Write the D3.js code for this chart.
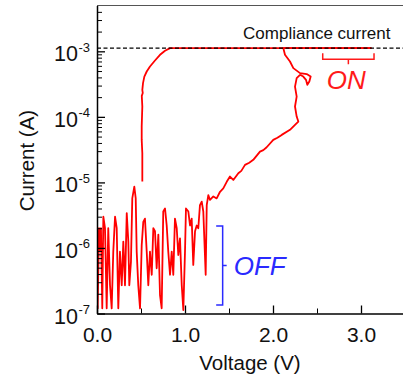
<!DOCTYPE html>
<html>
<head>
<meta charset="utf-8">
<script src="https://cdn.jsdelivr.net/npm/d3@7"></script>
<style>
  html, body { margin: 0; padding: 0; background: #fff; }
  svg { display: block; font-family: "Liberation Sans", Arial, Helvetica, sans-serif; }
</style>
</head>
<body>
<svg id="chart" width="403" height="381"></svg>
<script>
// forward sweep, OFF state noise  [voltage (V), current (A)]
const offSweep = [
  [0.00, 4.0e-6], [0.008, 1.2e-7], [0.023, 2.0e-6], [0.034, 9.3e-7], [0.045, 2.0e-6],
  [0.060, 1.2e-7], [0.072, 3.0e-6], [0.091, 2.0e-6], [0.110, 1.2e-7], [0.128, 2.0e-6],
  [0.148, 2.7e-7], [0.167, 1.2e-7], [0.185, 8.8e-7], [0.205, 3.0e-6], [0.224, 2.0e-6],
  [0.242, 1.2e-7], [0.261, 8.8e-7], [0.281, 2.7e-7], [0.299, 1.25e-6], [0.318, 2.7e-7],
  [0.338, 3.4e-6], [0.356, 1.25e-6], [0.367, 2.7e-7], [0.386, 6.2e-7], [0.401, 5.7e-6],
  [0.424, 8.6e-6], [0.440, 5.7e-6], [0.451, 8.8e-7], [0.469, 2.7e-7], [0.489, 1.2e-7],
  [0.508, 1.1e-6], [0.526, 2.5e-6], [0.545, 2.8e-6], [0.565, 8.8e-7], [0.583, 2.7e-7],
  [0.602, 8.8e-7], [0.622, 3.9e-7], [0.640, 2.0e-6], [0.659, 1.8e-6], [0.678, 4.9e-7],
  [0.697, 1.6e-6], [0.716, 1.9e-7], [0.735, 1.2e-7], [0.753, 3.6e-6], [0.773, 4.0e-6],
  [0.792, 2.2e-6], [0.810, 8.8e-7], [0.830, 3.9e-7], [0.849, 8.8e-7], [0.867, 3.9e-7],
  [0.886, 2.8e-6], [0.906, 2.0e-6], [0.924, 7.8e-7], [0.943, 1.4e-6], [0.963, 2.7e-7],
  [0.981, 1.13e-7], [1.000, 8.8e-7], [1.011, 4.0e-6], [1.038, 3.6e-6], [1.057, 2.2e-6],
  [1.076, 2.8e-6], [1.094, 5.5e-7], [1.114, 1.8e-6], [1.133, 2.2e-6], [1.151, 2.0e-6],
  [1.170, 4.5e-6], [1.190, 5.1e-6], [1.208, 3.6e-6], [1.235, 3.9e-7], [1.247, 4.5e-6],
  [1.265, 6.4e-6], [1.284, 5.4e-6], [1.322, 6.1e-6], [1.360, 5.7e-6], [1.398, 7.2e-6],
  [1.435, 8.1e-6], [1.474, 1.02e-5]
];

// forward sweep, rise up to the compliance level
const setSweep = [
  [1.511, 1.23e-5], [1.549, 1.09e-5], [1.606, 1.38e-5], [1.640, 1.5e-5], [1.682, 1.85e-5],
  [1.730, 2.0e-5], [1.776, 2.21e-5], [1.852, 2.95e-5], [1.890, 3.1e-5], [1.928, 3.44e-5],
  [2.003, 4.45e-5], [2.050, 4.8e-5], [2.099, 5.31e-5], [2.193, 6.34e-5], [2.250, 7.55e-5],
  [2.288, 8.48e-5], [2.269, 1.01e-4], [2.250, 1.44e-4], [2.269, 2.04e-4], [2.250, 2.90e-4],
  [2.269, 3.90e-4], [2.307, 4.38e-4], [2.344, 4.12e-4], [2.375, 3.67e-4], [2.390, 3.08e-4],
  [2.413, 3.46e-4], [2.428, 4.12e-4], [2.383, 4.49e-4], [2.307, 4.65e-4], [2.231, 5.54e-4],
  [2.193, 6.99e-4], [2.136, 8.85e-4], [2.117, 1.12e-3], [3.12, 1.12e-3]
];

// backward sweep, ON state and drop
const resetSweep = [
  [3.12, 1.12e-3], [0.830, 1.12e-3], [0.773, 1.02e-3], [0.716, 8.85e-4], [0.659, 7.24e-4],
  [0.602, 5.86e-4], [0.565, 4.92e-4], [0.538, 4.12e-4], [0.523, 3.27e-4], [0.515, 2.58e-4],
  [0.520, 2.32e-4], [0.509, 2.09e-4], [0.515, 1.44e-4], [0.508, 7.11e-5], [0.508, 4.45e-5],
  [0.515, 2.79e-5], [0.515, 1.03e-5]
];

const complianceCurrent = 1.12e-3;
const xMajor = [0, 1, 2, 3];
const xMinor = [0.5, 1.5, 2.5];
const yDecades = [-7, -6, -5, -4, -3];

// annotation brackets, in data units
const onBracket = {v0: 2.565, v1: 3.148, i: 7.6e-4, label: "ON"};
const offBracket = {v: 1.428, i0: 2.17e-6, i1: 1.35e-7, label: "OFF"};

const svg = d3.select("#chart");
const plot = {left: 97, right: 405, top: 5.5, bottom: 313.5};

const x = d3.scaleLinear().domain([0, 3.5]).range([plot.left, plot.right]);
const y = d3.scaleLog().domain([1e-7, 5e-3]).range([plot.bottom, plot.top]);

svg.append("clipPath").attr("id", "plotClip")
  .append("rect")
  .attr("x", plot.left).attr("y", plot.top)
  .attr("width", plot.right - plot.left).attr("height", plot.bottom - plot.top);

const line = d3.line().x(d => x(d[0])).y(d => y(d[1]));

const gData = svg.append("g").attr("clip-path", "url(#plotClip)");

[offSweep.concat(setSweep), resetSweep].forEach(s => {
  gData.append("path")
    .attr("d", line(s))
    .attr("fill", "none")
    .attr("stroke", "#ff0000")
    .attr("stroke-width", 1.8)
    .attr("stroke-linejoin", "round");
});

// compliance line
gData.append("path")
  .attr("d", line([[0, complianceCurrent], [3.5, complianceCurrent]]))
  .attr("stroke", "#000")
  .attr("stroke-width", 1.3)
  .attr("stroke-dasharray", "4,2.5");

svg.append("text")
  .attr("x", x(1.66))
  .attr("y", y(complianceCurrent) - 9)
  .attr("font-size", 17)
  .attr("fill", "#111")
  .text("Compliance current");

// frame top
svg.append("line")
  .attr("x1", plot.left).attr("x2", 403)
  .attr("y1", plot.top).attr("y2", plot.top)
  .attr("stroke", "#555").attr("stroke-width", 1);

// x axis
const xAxis = svg.append("g").attr("transform", `translate(0,${plot.bottom})`)
  .call(d3.axisBottom(x).tickValues(xMajor).tickSize(-8).tickSizeOuter(0)
    .tickPadding(14).tickFormat(d3.format(".1f")));
svg.append("g").attr("transform", `translate(0,${plot.bottom})`)
  .call(d3.axisBottom(x).tickValues(xMinor).tickSize(-5).tickSizeOuter(0).tickFormat(""))
  .select(".domain").remove();
xAxis.select(".domain").attr("stroke", "#000").attr("stroke-width", 1.5);
xAxis.selectAll(".tick line").attr("stroke-width", 1.3);
xAxis.selectAll("text").attr("font-size", 21).attr("fill", "#111")
  .attr("font-family", "'Liberation Sans', Arial, sans-serif");

// y axis
const yMinorVals = [];
yDecades.forEach(e => {
  for (let m = 2; m <= 9; m++) {
    const v = m * Math.pow(10, e);
    if (v < 5e-3) yMinorVals.push(v);
  }
});
const yAxis = svg.append("g").attr("transform", `translate(${plot.left},0)`)
  .call(d3.axisLeft(y).tickValues(yDecades.map(e => Math.pow(10, e)))
    .tickSize(-8).tickSizeOuter(0).tickFormat(""));
svg.append("g").attr("transform", `translate(${plot.left},0)`)
  .call(d3.axisLeft(y).tickValues(yMinorVals).tickSize(-5).tickSizeOuter(0).tickFormat(""))
  .select(".domain").remove();
yAxis.select(".domain").attr("stroke", "#000").attr("stroke-width", 1.5);
yAxis.selectAll(".tick line").attr("stroke-width", 1.3);

yDecades.forEach(e => {
  const ty = y(Math.pow(10, e));
  svg.append("text")
    .attr("x", 78).attr("y", ty + 10)
    .attr("text-anchor", "end")
    .attr("font-size", 21.5).attr("fill", "#111")
    .text("10");
  svg.append("text")
    .attr("x", 78.5).attr("y", ty + 0.5)
    .attr("font-size", 13).attr("fill", "#111")
    .text(String(e));
});

// axis titles
svg.append("text")
  .attr("x", (plot.left + plot.right) / 2 - 1).attr("y", 370)
  .attr("text-anchor", "middle")
  .attr("font-size", 20.5).attr("fill", "#111")
  .text("Voltage (V)");
svg.append("text")
  .attr("transform", `translate(34,${160.5}) rotate(-90)`)
  .attr("text-anchor", "middle")
  .attr("font-size", 20.5).attr("fill", "#111")
  .text("Current (A)");

// ON bracket
const red = "#ff1a1a";
const onY = y(onBracket.i), onX0 = x(onBracket.v0), onX1 = x(onBracket.v1);
const onMid = (onX0 + onX1) / 2;
svg.append("path")
  .attr("d", `M${onX0},${onY - 6}V${onY}H${onX1}V${onY - 6}M${onMid},${onY}V${onY + 5}`)
  .attr("fill", "none").attr("stroke", red).attr("stroke-width", 1.5);
svg.append("text")
  .attr("x", onMid - 2).attr("y", onY + 30)
  .attr("text-anchor", "middle")
  .attr("font-size", 26).attr("font-style", "italic").attr("fill", red)
  .text(onBracket.label);

// OFF bracket
const blue = "#2a2aff";
const offX = x(offBracket.v), offY0 = y(offBracket.i0), offY1 = y(offBracket.i1);
const offMid = (offY0 + offY1) / 2;
svg.append("path")
  .attr("d", `M${offX - 6.5},${offY0}H${offX}V${offY1}H${offX - 6.5}M${offX},${offMid}H${offX + 4}`)
  .attr("fill", "none").attr("stroke", blue).attr("stroke-width", 1.5);
svg.append("text")
  .attr("x", offX + 11).attr("y", offMid + 9.5)
  .attr("font-size", 26).attr("font-style", "italic").attr("fill", blue)
  .text(offBracket.label);
</script>
</body>
</html>
